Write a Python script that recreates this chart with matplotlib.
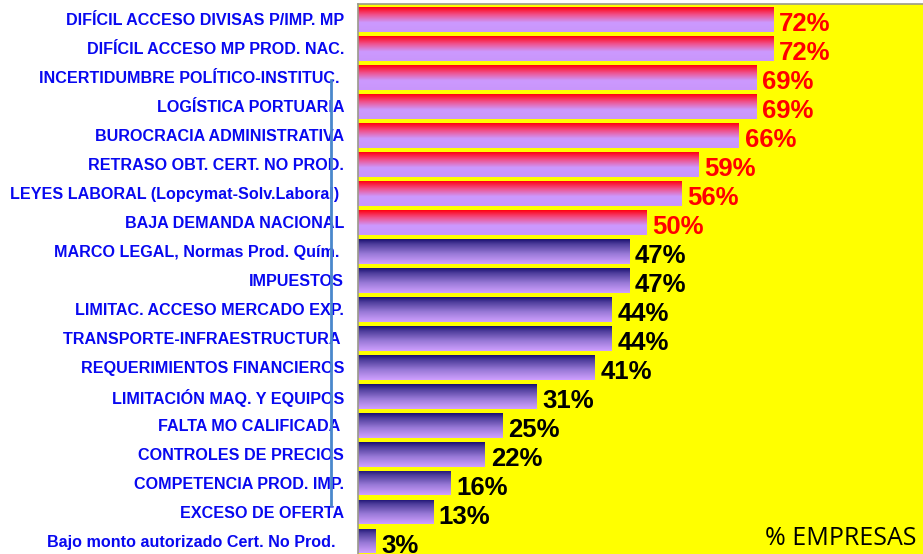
import matplotlib
matplotlib.use("Agg")
import matplotlib.pyplot as plt
import numpy as np
from matplotlib.colors import LinearSegmentedColormap

categories = [
    "DIFÍCIL ACCESO DIVISAS P/IMP. MP",
    "DIFÍCIL ACCESO MP PROD. NAC.",
    "INCERTIDUMBRE POLÍTICO-INSTITUC. ",
    "LOGÍSTICA PORTUARIA",
    "BUROCRACIA ADMINISTRATIVA",
    "RETRASO OBT. CERT. NO PROD.",
    "LEYES LABORAL (Lopcymat-Solv.Laboral) ",
    "BAJA DEMANDA NACIONAL",
    "MARCO LEGAL, Normas Prod. Quím. ",
    "IMPUESTOS",
    "LIMITAC. ACCESO MERCADO EXP.",
    "TRANSPORTE-INFRAESTRUCTURA ",
    "REQUERIMIENTOS FINANCIEROS",
    "LIMITACIÓN MAQ. Y EQUIPOS",
    "FALTA MO CALIFICADA ",
    "CONTROLES DE PRECIOS",
    "COMPETENCIA PROD. IMP.",
    "EXCESO DE OFERTA",
    "Bajo monto autorizado Cert. No Prod.  ",
]
values = [72, 72, 69, 69, 66, 59, 56, 50, 47, 47, 44, 44, 41, 31, 25, 22, 16, 13, 3]
highlight = [True] * 8 + [False] * 11

red_cmap = LinearSegmentedColormap.from_list(
    "red", [(0, "#ff0010"), (0.3, "#f0508a"), (0.62, "#cc99ff"), (1, "#c996fb")])
blue_cmap = LinearSegmentedColormap.from_list(
    "blue", [(0, "#1a1070"), (0.2, "#4e3e9c"), (0.6, "#9a7ad8"), (1, "#d0a0ff")])

fig = plt.figure(figsize=(9.23, 5.54), dpi=100)
ax = fig.add_axes([358 / 923, 0, 565 / 923, 550 / 554])
ax.set_facecolor("#ffff00")

y = np.arange(len(values))
h = 0.86
bars = ax.barh(y, values, height=h, color="none", edgecolor="none")
grad = np.linspace(0, 1, 200).reshape(-1, 1)
for bar, v, yy, hi in zip(bars, values, y, highlight):
    im = ax.imshow(grad, cmap=red_cmap if hi else blue_cmap, aspect="auto",
                   extent=(0, v, yy + h / 2, yy - h / 2), origin="upper",
                   interpolation="bilinear")
    im.set_clip_path(bar)
    ax.text(v + 1.0, yy + 0.16, f"{v}%", ha="left", va="center",
            fontsize=18.5, fontweight="bold", family="Liberation Sans",
            color="#ff0000" if hi else "#000000")

ax.set_xlim(0, 97.9)
ax.set_ylim(18.45, -0.535)
ax.set_yticks(y)
ax.set_yticklabels(categories, family="Liberation Sans", fontsize=11.6,
                   fontweight="bold", color="#0808f0")
ax.tick_params(axis="y", length=0, pad=10)
ax.set_xticks([])
for s in ["right", "bottom"]:
    ax.spines[s].set_visible(False)
for s in ["left", "top"]:
    ax.spines[s].set_color("#9a9a8a")
    ax.spines[s].set_linewidth(1.2)

ax.text(0.989, 9 / 550, "% EMPRESAS", transform=ax.transAxes, ha="right",
        va="baseline", family="Open Sans", fontsize=18, color="#000000")

fig.add_artist(plt.Line2D([331 / 923, 331 / 923], [1 - 80 / 554, 1 - 505 / 554],
                          color="#4a88cc", linewidth=2))

fig.savefig("out.png", dpi=100)
